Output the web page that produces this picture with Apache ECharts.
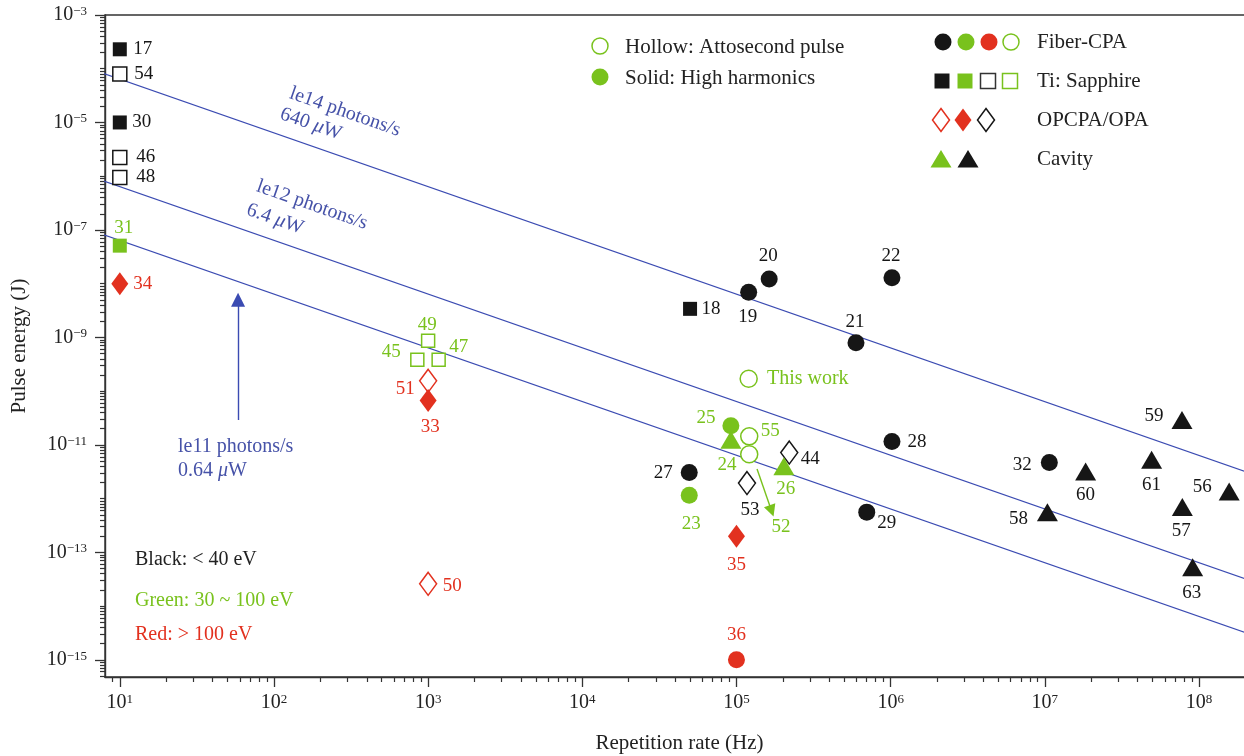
<!DOCTYPE html>
<html>
	<head>
		<meta charset="utf-8">
		<title>Pulse energy vs repetition rate</title>
		<script src="https://cdn.jsdelivr.net/npm/echarts@6/dist/echarts.min.js"></script>
	</head>
	<body style="margin:0">
		<div id="res" style="width: 1244px;height: 756px;"></div>
		<script>
			// [repetition rate (Hz), pulse energy (J), label]
			var fiberBlack = [[1.2e5, 6.9e-9, '19'], [1.63e5, 1.22e-8, '20'], [5.96e5, 7.96e-10, '21'], [1.02e6, 1.29e-8, '22'],
				[4.94e4, 3.07e-12, '27'], [1.02e6, 1.15e-11, '28'], [7.0e5, 5.6e-13, '29'], [1.07e7, 4.7e-12, '32']];
			var fiberGreen = [[9.2e4, 2.27e-11, '25'], [4.94e4, 1.15e-12, '23']];
			var fiberRed = [[1e5, 1e-15, '36']];
			var fiberGreenHollow = [[1.2e5, 1.7e-10, 'This work'], [1.21e5, 1.44e-11, '55'], [1.21e5, 6.7e-12, '']];
			var tiBlack = [[10, 2.3e-4, '17'], [10, 1e-5, '30'], [5e4, 3.4e-9, '18']];
			var tiGreen = [[10, 5.1e-8, '31']];
			var tiBlackHollow = [[10, 8e-5, '54'], [10, 2.24e-6, '46'], [10, 9.5e-7, '48']];
			var tiGreenHollow = [[851, 3.85e-10, '45'], [1e3, 8.7e-10, '49'], [1170, 3.85e-10, '47']];
			var opaRedHollow = [[1e3, 1.56e-10, '51'], [1e3, 2.6e-14, '50']];
			var opaRed = [[10, 1e-8, '34'], [1e3, 6.7e-11, '33'], [1e5, 2e-13, '35']];
			var opaBlackHollow = [[2.2e5, 7.2e-12, '44'], [1.17e5, 1.95e-12, '53']];
			var cavityGreen = [[9.2e4, 1.25e-11, '24'], [2.03e5, 4.0e-12, '26']];
			var cavityBlack = [[7.76e7, 2.9e-11, '59'], [4.93e7, 5.3e-12, '61'], [1.84e7, 3.2e-12, '60'], [1.57e8, 1.36e-12, '56'],
				[7.8e7, 7.0e-13, '57'], [1.04e7, 5.6e-13, '58'], [9.1e7, 5.3e-14, '63']];

			// constant photon flux lines (end points beyond the axes, clipped)
			var flux640uW = [[5, 1.28e-4], [3e8, 2.13e-12]];
			var flux6p4uW = [[5, 1.28e-6], [3e8, 2.13e-14]];
			var flux0p64uW = [[5, 1.28e-7], [3e8, 2.13e-15]];
			var blueArrow = [[58.5, 2.9e-11], [58.5, 5.0e-9]];
			var greenArrow = [[1.36e5, 3.55e-12], [1.69e5, 5.9e-13]];

			// axis ticks (exponents)
			var xMajor = [1, 2, 3, 4, 5, 6, 7, 8];
			var yMajor = [-15, -13, -11, -9, -7, -5, -3];
			var mantissa = [2, 3, 4, 5, 6, 7, 8, 9];

			var FONT = 'Liberation Serif';
			var BLACK = '#161616', GREEN = '#79c21d', RED = '#e2311f', BLUE = '#3b4bb2', BLUE_TXT = '#4652a8';
			var X_MIN = 0.904, X_MAX = 8.357, Y_MIN = -15.32, Y_MAX = -3;

			// label offsets from marker centre, px
			var labelOffset = {
				'17': [23, 0], '54': [24, 0], '30': [22, 0], '46': [26, 0], '48': [26, 0], '31': [4, -18], '34': [23, 0],
				'18': [21, 0], '19': [-1, 25], '20': [-1, -23], '22': [-1, -22], '21': [-1, -21], '28': [25, 0], '29': [20, 11],
				'32': [-27, 3], '60': [0, 24], '61': [0, 25], '59': [-28, -4], '56': [-27, -4], '57': [-1, 24], '58': [-29, 7],
				'63': [-1, 26], '25': [-25, -8], '24': [-4, 25], '55': [21, -5], '44': [21, 6], '26': [2, 23], '27': [-26, 1],
				'23': [2, 29], '53': [3, 27], '45': [-26, -8], '49': [-1, -16], '47': [20, -13], '51': [-23, 8], '33': [2, 27],
				'50': [24, 2], '35': [0, 29], '36': [0, -25]
			};

			function lg(v) { return Math.log10(v); }

			function minorTicks(lo, hi, withUnit) {
				var out = [];
				for(var k = Math.floor(lo) - 1; k <= Math.ceil(hi); k++) {
					var ms = mantissa.slice();
					if(withUnit && withUnit(k)) ms.unshift(1);
					for(var i = 0; i < ms.length; i++) {
						var v = lg(ms[i]) + k;
						if(v > lo && v < hi) out.push(v);
					}
				}
				return out;
			}

			function sup(v) {
				return '{a|10}{b|' + (v < 0 ? '\u2212' + (-v) : v) + '}';
			}

			function points(list) {
				return list.map(function(p) {
					var item = { name: p[2], value: [lg(p[0]), lg(p[1])] };
					if(p[2] === 'This work') {
						item.label = { position: 'right', distance: 9, fontSize: 20 };
					} else if(labelOffset[p[2]]) {
						item.label = { position: 'inside', offset: labelOffset[p[2]] };
					}
					return item;
				});
			}

			function scatter(list, symbol, size, color, hollow) {
				return {
					type: 'scatter',
					symbol: symbol,
					symbolSize: size,
					z: 5,
					itemStyle: hollow ? { color: '#fff', borderColor: color, borderWidth: 1.5, opacity: 1 } : { color: color, opacity: 1 },
					label: {
						show: true,
						formatter: '{b}',
						color: color,
						fontFamily: FONT,
						fontSize: 19
					},
					emphasis: { disabled: true },
					data: points(list)
				};
			}

			function fluxLine(pts) {
				return {
					type: 'line',
					data: pts.map(function(p) { return [lg(p[0]), lg(p[1])]; }),
					showSymbol: false,
					lineStyle: { color: BLUE, width: 1.2 },
					z: 2
				};
			}

			function arrow(pts, color, size) {
				return {
					type: 'lines',
					coordinateSystem: 'cartesian2d',
					symbol: ['none', 'triangle'],
					symbolSize: size,
					lineStyle: { color: color, width: 1.4, opacity: 1 },
					z: 4,
					data: [{ coords: pts.map(function(p) { return [lg(p[0]), lg(p[1])]; }) }]
				};
			}

			var rich = {
				a: { fontFamily: FONT, fontSize: 20, color: '#222' },
				b: { fontFamily: FONT, fontSize: 13, color: '#222', verticalAlign: 'top', padding: [0, 0, 3, 0] }
			};
			var muRich = {
				n: { fontFamily: FONT, fontSize: 20, fill: BLUE_TXT },
				i: { fontFamily: FONT, fontSize: 20, fontStyle: 'italic', fill: BLUE_TXT }
			};
			var txt = function(s, x, y, color, extra) {
				var st = { text: s, fontFamily: FONT, fontSize: 20, fill: color || '#222', verticalAlign: 'middle' };
				for(var k in extra) st[k] = extra[k];
				return { type: 'text', x: x, y: y, style: st, z: 10 };
			};
			var muTxt = function(num, x, y, extra) {
				return txt('{n|' + num + ' }{i|\u03bc}{n|W}', x, y, BLUE_TXT, Object.assign({ rich: muRich }, extra));
			};
			var circ = function(x, y, fill, stroke) {
				return { type: 'circle', shape: { cx: x, cy: y, r: stroke ? 8 : 8.5 },
					style: { fill: fill, stroke: stroke || null, lineWidth: 1.5 } };
			};
			var sq = function(x, y, fill, stroke) {
				return { type: 'rect', shape: { x: x - 7.5, y: y - 7.5, width: 15, height: 15 },
					style: { fill: fill, stroke: stroke || null, lineWidth: 1.5 } };
			};
			var dia = function(x, y, fill, stroke) {
				return { type: 'polygon', shape: { points: [[x, y - 11.5], [x + 8.5, y], [x, y + 11.5], [x - 8.5, y]] },
					style: { fill: fill, stroke: stroke || null, lineWidth: 1.5 } };
			};
			var tri = function(x, y, fill) {
				return { type: 'polygon', shape: { points: [[x, y - 9], [x + 10.5, y + 8.5], [x - 10.5, y + 8.5]] },
					style: { fill: fill } };
			};
			var rot = -Math.atan(53.73 / 154.17);

			var myChart = echarts.init(document.getElementById('res'));
			var option = {
				animation: false,
				backgroundColor: '#fff',
				grid: [
					{ left: 105, top: 15, right: -10, bottom: 79, outerBoundsMode: 'none', containLabel: false,
						show: true, borderColor: '#333', borderWidth: 1.4 },
					{ left: 105, top: 15, right: -10, bottom: 79, outerBoundsMode: 'none', containLabel: false }
				],
				xAxis: [{
					type: 'value', min: X_MIN, max: X_MAX,
					name: 'Repetition rate (Hz)', nameLocation: 'middle', nameGap: 56,
					nameTextStyle: { fontFamily: FONT, fontSize: 21, color: '#222' },
					axisLine: { lineStyle: { color: '#333', width: 1.4 } },
					axisTick: { customValues: xMajor, length: 10, lineStyle: { color: '#333', width: 1.3 } },
					axisLabel: { customValues: xMajor, margin: 16, formatter: sup, rich: rich },
					splitLine: { show: false }
				}, {
					gridIndex: 1, type: 'value', min: X_MIN, max: X_MAX,
					axisLine: { show: false },
					axisTick: { customValues: minorTicks(X_MIN, X_MAX), length: 5, lineStyle: { color: '#333', width: 1.2 } },
					axisLabel: { show: false },
					splitLine: { show: false }
				}],
				yAxis: [{
					type: 'value', min: Y_MIN, max: Y_MAX,
					name: 'Pulse energy (J)', nameLocation: 'middle', nameGap: 75,
					nameTextStyle: { fontFamily: FONT, fontSize: 21, color: '#222' },
					axisLine: { lineStyle: { color: '#333', width: 1.4 } },
					axisTick: { customValues: yMajor, length: 10, lineStyle: { color: '#333', width: 1.3 } },
					axisLabel: { customValues: yMajor, margin: 18, formatter: sup, rich: rich },
					splitLine: { show: false }
				}, {
					gridIndex: 1, type: 'value', min: Y_MIN, max: Y_MAX,
					axisLine: { show: false },
					axisTick: {
						customValues: minorTicks(Y_MIN, Y_MAX, function(k) { return k % 2 === 0; }),
						length: 5, lineStyle: { color: '#333', width: 1.2 }
					},
					axisLabel: { show: false },
					splitLine: { show: false }
				}],
				series: [
					fluxLine(flux640uW), fluxLine(flux6p4uW), fluxLine(flux0p64uW),
					arrow(blueArrow, BLUE, [12, 14]),
					arrow(greenArrow, GREEN, 12),
					scatter(fiberBlack, 'circle', 17, BLACK),
					scatter(fiberGreen, 'circle', 17, GREEN),
					scatter(fiberRed, 'circle', 17, RED),
					scatter(fiberGreenHollow, 'circle', 17, GREEN, true),
					scatter(tiBlack, 'rect', 14, BLACK),
					scatter(tiGreen, 'rect', 14, GREEN),
					scatter(tiBlackHollow, 'rect', 14, BLACK, true),
					scatter(tiGreenHollow, 'rect', 13, GREEN, true),
					scatter(opaRedHollow, 'diamond', [17, 23], RED, true),
					scatter(opaRed, 'diamond', [17, 23], RED),
					scatter(opaBlackHollow, 'diamond', [17, 23], BLACK, true),
					scatter(cavityGreen, 'triangle', [21, 18], GREEN),
					scatter(cavityBlack, 'triangle', [21, 18], BLACK)
				],
				graphic: [
					circ(600, 46, '#fff', GREEN), txt('Hollow: Attosecond pulse', 625, 47, null, { fontSize: 21 }),
					circ(600, 77, GREEN), txt('Solid: High harmonics', 625, 78, null, { fontSize: 21 }),

					circ(943, 42, BLACK), circ(966, 42, GREEN), circ(989, 42, RED), circ(1011, 42, '#fff', GREEN),
					txt('Fiber-CPA', 1037, 42, null, { fontSize: 21 }),
					sq(942, 81, BLACK), sq(965, 81, GREEN), sq(988, 81, '#fff', '#333'), sq(1010, 81, '#fff', GREEN),
					txt('Ti: Sapphire', 1037, 81, null, { fontSize: 21 }),
					dia(941, 120, '#fff', RED), dia(963, 120, RED), dia(986, 120, '#fff', BLACK),
					txt('OPCPA/OPA', 1037, 120, null, { fontSize: 21 }),
					tri(941, 159, GREEN), tri(968, 159, BLACK),
					txt('Cavity', 1037, 159, null, { fontSize: 21 }),

					txt('Black: < 40 eV', 135, 560),
					txt('Green: 30 ~ 100 eV', 135, 601, GREEN),
					txt('Red: > 100 eV', 135, 635, RED),

					txt('le14 photons/s', 345, 112, BLUE_TXT, { align: 'center', rotation: rot }),
					muTxt('640', 311, 124, { align: 'center' }),
					txt('le12 photons/s', 312, 205, BLUE_TXT, { align: 'center' }),
					muTxt('6.4', 275, 219, { align: 'center' }),
					txt('le11 photons/s', 178, 447, BLUE_TXT),
					muTxt('0.64', 178, 471),
					txt('52', 781, 527, GREEN, { align: 'center', fontSize: 19 })
				]
			};
			// rotate the flux-line captions along the lines
			for(var i = 0; i < option.graphic.length; i++) {
				var g = option.graphic[i];
				if(g.type === 'text' && g.y < 300 && g.x < 400) g.rotation = rot;
			}
			myChart.setOption(option);
		</script>
	</body>
</html>
